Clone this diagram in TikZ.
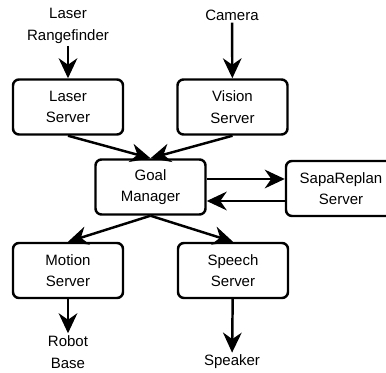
\documentclass[tikz,border=0pt]{standalone}
\usepackage{fontspec}
\setmainfont{Liberation Sans}
\usetikzlibrary{arrows.meta, positioning}

\begin{document}
\begin{tikzpicture}[x=0.03cm, y=-0.03cm, line width=2.1pt,
    server/.style={draw, rectangle, rounded corners=0.18cm, minimum width=3.3cm, minimum height=1.65cm, align=center},
    device/.style={align=center, inner sep=1pt},
    flow/.style={-{Stealth[length=6mm, width=5.6mm]}},
    every node/.style={font=\fontsize{12.8}{18.5}\selectfont}]
  \clip (0,0) rectangle (386,373);
  % Sensors
  \node[device] (rangefinder) at (68,26) {Laser\\Rangefinder};
  \node[device] (camera) at (232,15) {Camera};
  % Sensor servers
  \node[server] (laser) at (68,107) {Laser\\Server};
  \node[server] (vision) at (232.5,107) {Vision\\Server};
  % Goal Manager and planner
  \node[server] (goal) at (150.5,187) {Goal\\Manager};
  \node[server] (sapa) at (341,188.5) {SapaReplan\\Server};
  % Output servers
  \node[server] (motion) at (68,270.5) {Motion\\Server};
  \node[server] (speech) at (233,270.5) {Speech\\Server};
  % Actuators
  \node[device] (robot) at (68,352) {Robot\\Base};
  \node[device] (speaker) at (232,362) {Speaker};
  % Arrows
  \draw[flow] (rangefinder) -- (laser);
  \draw[flow] (camera) -- (vision);
  \draw[flow] (laser.south) -- (goal.north);
  \draw[flow] (vision.south) -- (goal.north);
  \draw[flow] ([yshift=0.24cm]goal.east) -- ([yshift=0.24cm]goal.east -| sapa.west);
  \draw[flow] ([yshift=-0.42cm]goal.east -| sapa.west) -- ([yshift=-0.42cm]goal.east);
  \draw[flow] (goal.south) -- (motion.north);
  \draw[flow] (goal.south) -- (speech.north);
  \draw[flow] (motion) -- (robot);
  \draw[flow] (speech) -- (speaker);
\end{tikzpicture}
\end{document}
